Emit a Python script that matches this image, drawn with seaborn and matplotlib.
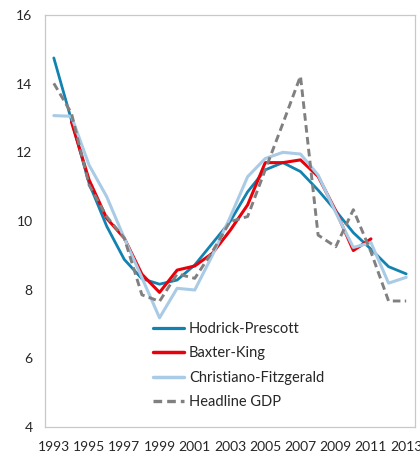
import numpy as np
import pandas as pd
import matplotlib
matplotlib.use("Agg")
import matplotlib.pyplot as plt
from matplotlib.lines import Line2D
import seaborn as sns

# data (per cent)
years = list(range(1993, 2014))
hodrick_prescott = [14.75, 12.94, 11.1, 9.85, 8.88, 8.32, 8.16, 8.28, 8.72, 9.35, 9.98,
                    10.85, 11.49, 11.7, 11.44, 10.9, 10.3, 9.66, 9.18, 8.67, 8.46]
baxter_king = [np.nan, 12.89, 11.2, 10.08, 9.5, 8.45, 7.92, 8.57, 8.69, 9.06, 9.72,
               10.47, 11.7, 11.7, 11.78, 11.3, 10.3, 9.14, 9.48, np.nan, np.nan]
christiano_fitzgerald = [13.07, 13.05, 11.63, 10.71, 9.5, 8.35, 7.18, 8.04, 7.99, 9.0, 10.1,
                         11.29, 11.82, 12.0, 11.95, 11.34, 10.25, 9.23, 9.37, 8.19, 8.36]
headline_gdp = [14.01, 13.14, 11.05, 10.13, 9.5, 7.85, 7.66, 8.46, 8.33, 9.11, 9.98,
                10.13, 11.49, 12.84, 14.22, 9.59, 9.25, 10.33, 9.1, 7.67, 7.67]

series = {
    "Hodrick-Prescott": hodrick_prescott,
    "Baxter-King": baxter_king,
    "Christiano-Fitzgerald": christiano_fitzgerald,
    "Headline GDP": headline_gdp,
}
df = pd.concat(
    [pd.DataFrame({"year": years, "value": vals, "series": name}) for name, vals in series.items()],
    ignore_index=True,
)

palette = {
    "Hodrick-Prescott": "#1283b0",
    "Baxter-King": "#e8000b",
    "Christiano-Fitzgerald": "#a9cbe6",
    "Headline GDP": "#808080",
}
gdp_dash = (2.6, 1.5)
widths = {"Hodrick-Prescott": 2.0, "Baxter-King": 2.2,
          "Christiano-Fitzgerald": 2.2, "Headline GDP": 2.1}

sns.set_style("white")
plt.rcParams["font.family"] = ["Lato", "DejaVu Sans"]

fig = plt.figure(figsize=(4.2, 4.55), dpi=100)
ax = fig.add_axes([45 / 420, 28 / 455, 370 / 420, 412 / 455])

# drawn in legend order, later series on top (as in the original)
for z, name in enumerate(series):
    sub = df[df["series"] == name].dropna()
    sns.lineplot(data=sub, x="year", y="value", color=palette[name], lw=widths[name],
                 ax=ax, zorder=2 + z)
    if name == "Headline GDP":
        ax.lines[-1].set_dashes(gdp_dash)

ax.set_xlim(1992.5, 2013.5)
ax.set_ylim(4, 16)
ax.set_xlabel("")
ax.set_ylabel("")

# category boundaries as tick marks, labels on every other year
ax.set_xticks(np.arange(1992.5, 2014, 1))
ax.set_xticklabels([])
ax.set_xticks(years[::2], minor=True)
ax.set_xticklabels([str(y) for y in years[::2]], minor=True, fontsize=10)
ax.tick_params(axis="x", which="major", direction="in", length=4, color="#bfbfbf", width=0.8)
ax.tick_params(axis="x", which="minor", length=0, pad=10)
ax.set_yticks([4, 6, 8, 10, 12, 14, 16])
ax.tick_params(axis="y", direction="in", length=5, color="#bfbfbf", width=0.8, labelsize=10, pad=9)

for sp in ax.spines.values():
    sp.set_color("#c8c8c8")
    sp.set_linewidth(0.9)

# legend
handles = []
for name in series:
    h = Line2D([], [], color=palette[name], lw=widths[name] + 0.3)
    if name == "Headline GDP":
        h.set_dashes(gdp_dash)
    handles.append(h)
ax.legend(handles, list(series.keys()), loc="upper left", bbox_to_anchor=(0.292, 0.255),
          frameon=False, fontsize=10.5, handlelength=2.1, handletextpad=0.35,
          labelspacing=0.72, borderaxespad=0, borderpad=0)

# clipped unit label at the top of the picture
fig.text(13 / 420, 1.0 + 4 / 455, "(% per cent)", color="#1283b0", fontsize=11, va="bottom")

fig.savefig("out.png", dpi=100)
